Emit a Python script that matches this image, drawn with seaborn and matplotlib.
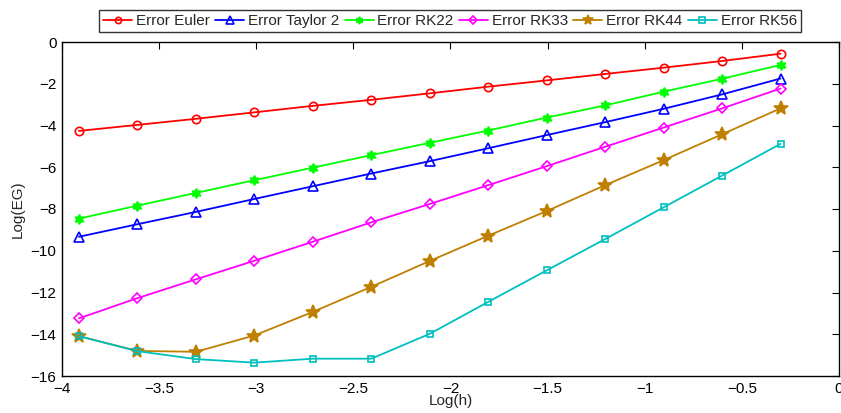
import matplotlib
matplotlib.use("Agg")
import matplotlib.pyplot as plt
import seaborn as sns
import pandas as pd

# log10 of step sizes h = 2^-13 ... 2^-1
log_h = [-3.913, -3.612, -3.311, -3.010, -2.709, -2.408, -2.107,
         -1.806, -1.505, -1.204, -0.903, -0.602, -0.301]

err_euler = [-4.26, -3.97, -3.68, -3.37, -3.06, -2.77, -2.46,
             -2.14, -1.84, -1.53, -1.23, -0.91, -0.56]
err_taylor2 = [-9.33, -8.73, -8.14, -7.52, -6.91, -6.30, -5.71,
               -5.09, -4.46, -3.84, -3.20, -2.51, -1.75]
err_rk22 = [-8.46, -7.84, -7.23, -6.62, -6.02, -5.42, -4.83,
            -4.24, -3.62, -3.04, -2.38, -1.76, -1.10]
err_rk33 = [-13.24, -12.27, -11.37, -10.48, -9.57, -8.64, -7.76,
            -6.86, -5.95, -5.02, -4.10, -3.18, -2.23]
err_rk44 = [-14.09, -14.80, -14.84, -14.06, -12.93, -11.73, -10.49,
            -9.28, -8.10, -6.86, -5.66, -4.42, -3.18]
err_rk56 = [-14.09, -14.81, -15.19, -15.36, -15.17, -15.17, -13.98,
            -12.45, -10.94, -9.44, -7.92, -6.40, -4.88]

labels = ["Error Euler", "Error Taylor 2", "Error RK22",
          "Error RK33", "Error RK44", "Error RK56"]
series = [err_euler, err_taylor2, err_rk22, err_rk33, err_rk44, err_rk56]
colors = ["#ff0000", "#0000ff", "#00ff00", "#ff00ff", "#bf8000", "#00bfbf"]
markers = ["o", "^", (6, 1, 0), "D", "*", "s"]
msizes = [6, 7, 7, 5.5, 10, 5]
filled = [False, False, True, False, True, False]

sns.set_style("white")
plt.rcParams["font.family"] = ["Liberation Sans", "DejaVu Sans"]
plt.rcParams["font.size"] = 11

fig = plt.figure(figsize=(8.41, 4.13), dpi=100)
ax = fig.add_axes([62 / 841, 1 - 376 / 413, (839 - 62) / 841, (376 - 42) / 413])

for lab, vals, c, m, ms, f in zip(labels, series, colors, markers, msizes, filled):
    df = pd.DataFrame({"log_h": log_h, "err": vals})
    sns.lineplot(data=df, x="log_h", y="err", ax=ax, color=c, marker=m,
                 markersize=ms, linewidth=1.3, label=lab,
                 markerfacecolor=(c if f else "none"), markeredgecolor=c,
                 markeredgewidth=1.2)

ax.set_xlim(-4, 0)
ax.set_ylim(-16, 0)
ax.set_xticks([-4, -3.5, -3, -2.5, -2, -1.5, -1, -0.5, 0])
ax.set_xticklabels(["\u22124", "\u22123.5", "\u22123", "\u22122.5", "\u22122",
                    "\u22121.5", "\u22121", "\u22120.5", "0"])
ax.set_yticks(list(range(-16, 1, 2)))
ax.set_yticklabels(["\u221216", "\u221214", "\u221212", "\u221210", "\u22128",
                    "\u22126", "\u22124", "\u22122", "0"])
ax.tick_params(direction="in", length=5, width=0.8, top=True, right=True,
               labelsize=11, colors="black", pad=4)
for sp in ax.spines.values():
    sp.set_visible(True)
    sp.set_color("black")
    sp.set_linewidth(1.0)

ax.set_xlabel("Log(h)", fontsize=11, labelpad=-1)
ax.set_ylabel("Log(EG)", fontsize=11, labelpad=4)

leg = ax.legend(loc="center", bbox_to_anchor=((450 - 62) / 777, 1 + 21 / 334),
                ncol=6, frameon=True, fancybox=False, edgecolor="black",
                fontsize=11, handlelength=1.9, handletextpad=0.25,
                columnspacing=0.35, borderpad=0.25, borderaxespad=0,
                markerscale=0.75)
leg.get_frame().set_linewidth(1.0)

fig.savefig("out.png", dpi=100, facecolor="white")
